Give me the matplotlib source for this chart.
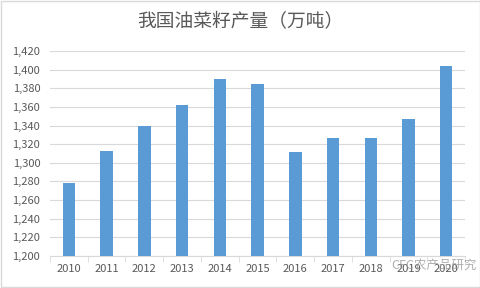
import matplotlib.pyplot as plt
from matplotlib.ticker import FuncFormatter

plt.rcParams['font.family'] = ['Noto Sans CJK SC', 'DejaVu Sans']

years = ['2010', '2011', '2012', '2013', '2014', '2015', '2016', '2017', '2018', '2019', '2020']
output = [1278, 1313, 1340, 1362, 1390, 1385, 1312, 1327, 1327, 1347, 1404]

fig = plt.figure(figsize=(4.81, 2.88), dpi=100)
ax = fig.add_axes([0.104, 0.111, 0.863, 0.712])

x = range(len(years))
ax.bar(x, output, width=0.33, color='#5b9bd5', zorder=3)

ax.set_ylim(1200, 1420)
ax.set_yticks(range(1200, 1421, 20))
ax.yaxis.set_major_formatter(FuncFormatter(lambda v, p: '{:,.0f}'.format(v)))
ax.set_xlim(-0.5, len(years) - 0.5)
ax.set_xticks(list(x))
ax.set_xticklabels(years)
ax.set_xticks([i - 0.5 for i in range(len(years) + 1)], minor=True)

ax.grid(axis='y', color='#d9d9d9', linewidth=0.8, zorder=0)
for s in ['top', 'right', 'left']:
    ax.spines[s].set_visible(False)
ax.spines['bottom'].set_color('#d9d9d9')
ax.tick_params(axis='y', length=0, labelsize=8, labelcolor='#595959', pad=7)
ax.tick_params(axis='x', which='major', length=0, labelsize=8, labelcolor='#595959', pad=6)
ax.tick_params(axis='x', which='minor', length=4, color='#d9d9d9')

fig.text(0.5, 0.925, '我国油菜籽产量（万吨）', ha='center', va='center',
         fontsize=13.5, color='#595959')

# watermark
fig.text(0.99, 0.078, 'CFC农产品研究', ha='right', va='center', fontsize=9,
         color='#9a9a9a', alpha=0.8)

fig.patches.append(plt.Rectangle((0.002, 0.003), 0.996, 0.994, transform=fig.transFigure,
                                 fill=False, edgecolor='#d9d9d9', linewidth=1))

fig.savefig('out.png', dpi=100)
